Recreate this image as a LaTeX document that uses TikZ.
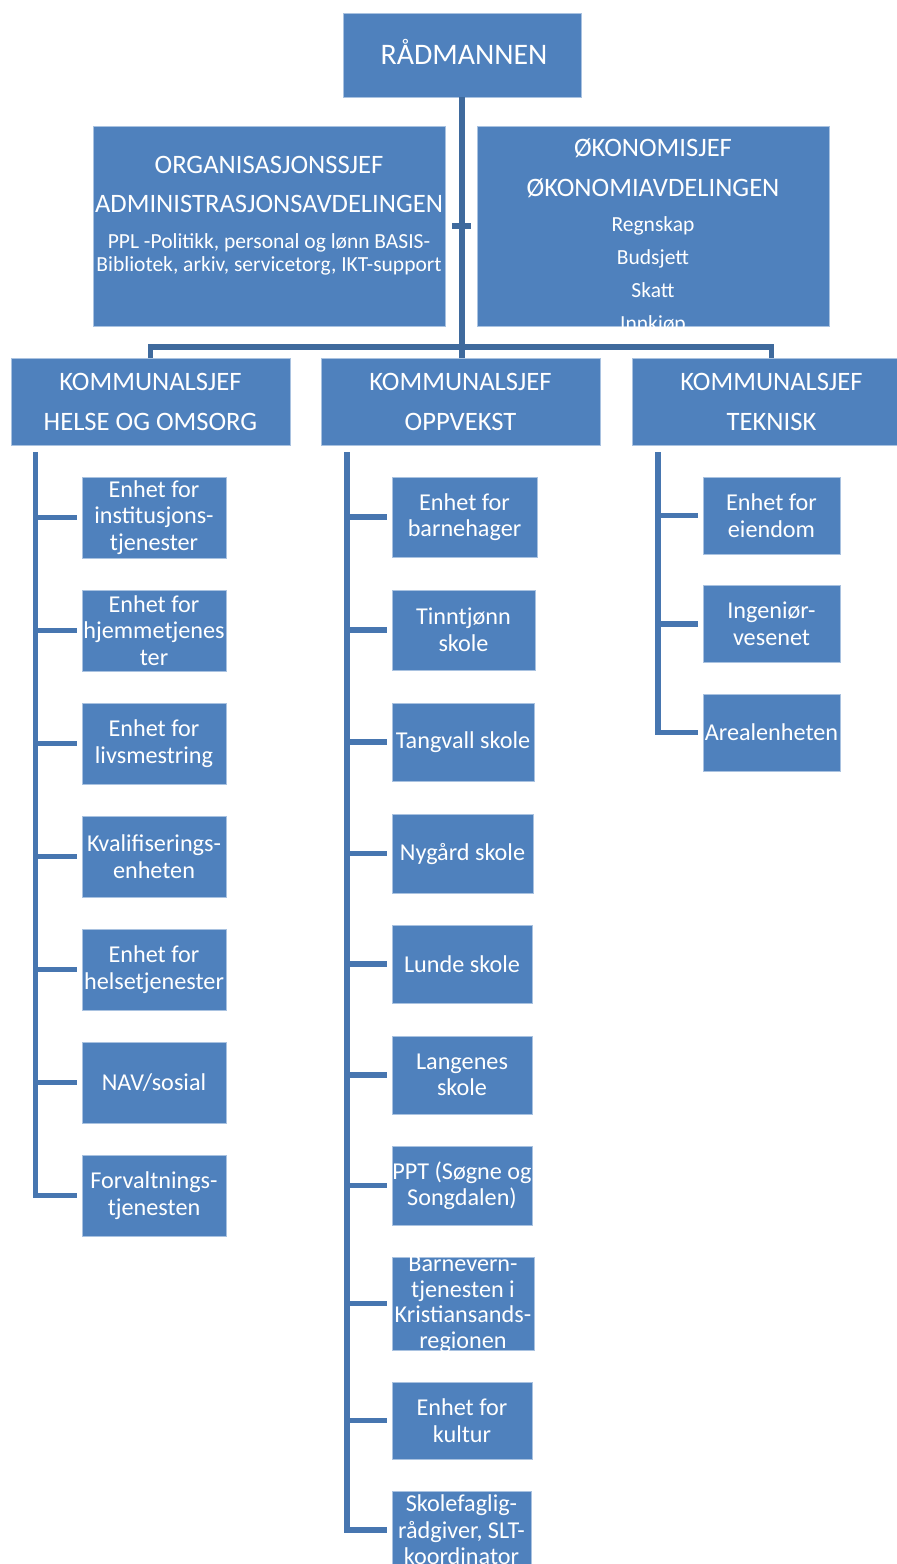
\documentclass[tikz,border=0pt]{standalone}
\usepackage{fontspec}
\setmainfont{Carlito}
\usetikzlibrary{calc}
\definecolor{boxfill}{HTML}{4F81BD}
\definecolor{boxline}{HTML}{A9C2E0}
\definecolor{topconn}{HTML}{3F6A9D}
\definecolor{colconn}{HTML}{4776B0}
\tikzset{
  x=1pt, y=-1pt,
  box/.style={rectangle, fill=boxfill, draw=boxline, line width=0.8pt, inner sep=0pt, text=white, align=center},
  head/.style={box, minimum width=279pt, minimum height=87pt, font=\fontsize{26.6}{40}\selectfont},
  unitL/.style={box, minimum width=144pt, minimum height=81pt, font=\fontsize{24.2}{26.5}\selectfont},
  unitM/.style={box, minimum width=144pt, minimum height=79pt, font=\fontsize{24.2}{26.5}\selectfont},
  unitR/.style={box, minimum width=137pt, minimum height=77pt, font=\fontsize{24.2}{26.5}\selectfont},
  txt/.style={inner sep=0pt, text=white, align=center},
  bigtxt/.style={txt, font=\fontsize{26.6}{40}\selectfont, anchor=base},
  smalltxt/.style={txt, font=\fontsize{21.5}{23}\selectfont, anchor=base},
  unittxt/.style={txt, font=\fontsize{24.2}{25.7}\selectfont},
  tconn/.style={draw=topconn, line width=5.5pt},
  cconn/.style={draw=colconn, line width=5.5pt},
}
\begin{document}
\begin{tikzpicture}
\useasboundingbox (0,0) rectangle (897,1564);
\clip (0,0) rectangle (897,1564);
\fill[white] (0,0) rectangle (897,1564);

% top
\node[box, minimum width=238pt, minimum height=84pt] (rad) at (462,55) {};
\node[txt, anchor=base, font=\fontsize{29.8}{36}\selectfont] (radt) at (464,64) {RÅDMANNEN};

\node[box, minimum width=352pt, minimum height=200pt] (org) at (269,226) {};
\node[bigtxt] (orgt1) at (269,173) {ORGANISASJONSSJEF};
\node[bigtxt] (orgt2) at (269,212) {ADMINISTRASJONSAVDELINGEN};
\node[smalltxt] (orgt3) at (269,248) {PPL -Politikk, personal og lønn BASIS-};
\node[smalltxt] (orgt4) at (269,271) {Bibliotek, arkiv, servicetorg, IKT-support};

\node[box, minimum width=352pt, minimum height=200pt] (oko) at (653,226) {};
\begin{scope}
\clip (oko.north west) rectangle (oko.south east);
\node[bigtxt] (okot1) at (653,156) {ØKONOMISJEF};
\node[bigtxt] (okot2) at (653,196) {ØKONOMIAVDELINGEN};
\node[smalltxt] (okot3) at (653,231) {Regnskap};
\node[smalltxt] (okot4) at (653,264) {Budsjett};
\node[smalltxt] (okot5) at (653,297) {Skatt};
\node[smalltxt] (okot6) at (653,330) {Innkjøp};
\end{scope}

% heads
\node[head] (k1) at (150.5,401.5) {KOMMUNALSJEF\\HELSE OG OMSORG};
\node[head] (k2) at (460.5,401.5) {KOMMUNALSJEF\\OPPVEKST};
\node[head] (k3) at (771.5,401.5) {KOMMUNALSJEF\\TEKNISK};

% top connectors
\coordinate (j) at (462,347);
\draw[tconn] (rad.south) -- (rad.south |- k2.north);
\draw[tconn] (k1.north) -- (k1.north |- j) -- (k3.north |- j) -- (k3.north);
\draw[tconn] ([xshift=7pt]org.east) -- ([xshift=-6pt]oko.west);

% left column
\node[unitL] (h1) at (154,517.5) {Enhet for\\institusjons-\\tjenester};
\node[unitL] (h2) at (154,630.5) {Enhet for\\hjemmetjenes\\ter};
\node[unitL] (h3) at (154,743.5) {Enhet for\\livsmestring};
\node[unitL] (h4) at (154,856.5) {Kvalifiserings-\\enheten};
\node[unitL] (h5) at (154,969.5) {Enhet for\\helsetjenester};
\node[unitL] (h6) at (154,1082.5) {NAV/sosial};
\node[unitL] (h7) at (154,1195.5) {Forvaltnings-\\tjenesten};

\coordinate (lt) at ([xshift=25pt,yshift=-7pt]k1.south west);
\draw[cconn] (lt) |- ([xshift=-5pt]h7.west);
\foreach \n in {h1,h2,h3,h4,h5,h6}{
  \draw[cconn] (lt |- \n.west) -- ([xshift=-5pt]\n.west);
}

% middle column
\node[unitM, minimum width=145pt, minimum height=80pt] (m1) at (464.5,517) {Enhet for\\barnehager};
\node[unitM, minimum width=143pt, minimum height=80pt] (m2) at (463.5,630) {Tinntjønn\\skole};
\node[unitM, minimum width=142pt, minimum height=78pt] (m3) at (463,742) {Tangvall skole};
\node[unitM, minimum width=141pt] (m4) at (462.5,853.5) {Nygård skole};
\node[unitM, minimum width=140pt, minimum height=78pt] (m5) at (462,964) {Lunde skole};
\node[unitM, minimum width=140pt, minimum height=78pt] (m6) at (462,1075) {Langenes\\skole};
\node[unitM, minimum width=140pt] (m7) at (462,1185.5) {PPT (Søgne og\\Songdalen)};
\node[unitM, minimum width=142pt, minimum height=93pt] (m8) at (463,1303.5) {};
\begin{scope}
\clip (m8.north west) rectangle (m8.south east);
\node[unittxt, anchor=base] (m8t) at (463,1271) {Barnevern-};
\node[unittxt, anchor=base] (m8u) at (463,1297) {tjenesten i};
\node[unittxt, anchor=base] (m8v) at (463,1322) {Kristiansands-};
\node[unittxt, anchor=base] (m8w) at (463,1348) {regionen};
\end{scope}
\node[unitM, minimum width=140pt, minimum height=77pt] (m9) at (462,1420.5) {Enhet for\\kultur};
\node[unitM, minimum width=139pt, minimum height=78pt] (m10) at (461.5,1530) {Skolefaglig-\\rådgiver, SLT-\\koordinator};

\coordinate (mt) at (347,452);
\draw[cconn] (mt) |- ([xshift=-5pt]m10.west);
\foreach \n in {m1,m2,m3,m4,m5,m6,m7,m8,m9}{
  \draw[cconn] (mt |- \n.west) -- ([xshift=-5pt]\n.west);
}

% right column
\node[unitR] (r1) at (771.5,515.5) {Enhet for\\eiendom};
\node[unitR] (r2) at (771.5,624) {Ingeniør-\\vesenet};
\node[unitR] (r3) at (771.5,732.5) {Arealenheten};

\coordinate (rt) at (658,452);
\draw[cconn] (rt) |- ([xshift=-5pt]r3.west);
\foreach \n in {r1,r2}{
  \draw[cconn] (rt |- \n.west) -- ([xshift=-5pt]\n.west);
}
\end{tikzpicture}
\end{document}
